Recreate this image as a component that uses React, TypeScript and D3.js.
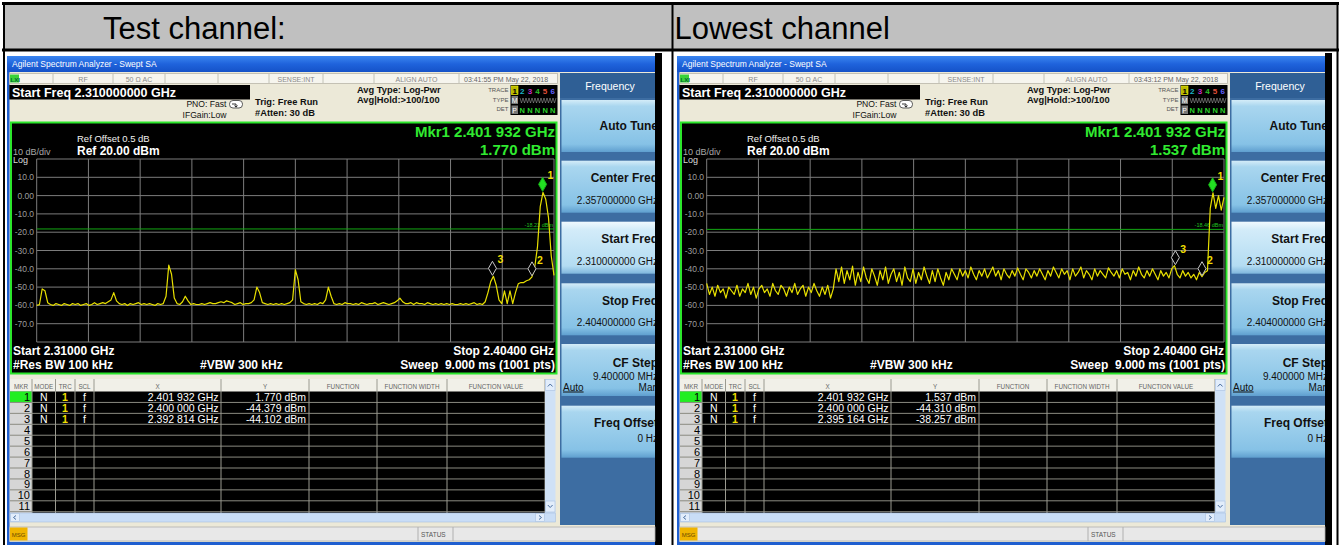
import React from "react";
import * as d3 from "d3";

// sweep settings, same for both captures
const startGHz = 2.31;
const stopGHz = 2.404;
const refDbm = 20;
const bottomDbm = -80;
const yTicks = [10, 0, -10, -20, -30, -40, -50, -60, -70];
const yTickLabels = ["10.0", "0.00", "-10.0", "-20.0", "-30.0", "-40.0", "-50.0", "-60.0", "-70.0"];

const panelTitles = ["Test channel:", "Lowest channel"];
const timestamps = ["03:41:55 PM May 22, 2018", "03:43:12 PM May 22, 2018"];
const displayLines = [-18.23, -18.46];

// trace 1, test channel (dBm, one value per 0.5 MHz)
const testTrace = [
  -60, -59.5, -51, -52, -58.5, -59.5, -60, -59, -59.5, -60,
  -59, -59.5, -60, -59, -59.5, -59, -60, -59.5, -59, -60,
  -59.5, -58.5, -59.5, -59, -58.5, -59, -58, -57, -53, -57.5,
  -59, -59.5, -59, -60, -59, -59.5, -59, -58.5, -59.5, -59,
  -59.5, -59, -59.5, -60, -59, -59.5, -59, -55, -38, -43,
  -56, -59, -59.5, -58, -55, -57.5, -59.5, -59, -59.5, -59.5,
  -59, -59.5, -59, -58.5, -59, -59, -58.5, -58, -58.5, -57.5,
  -58, -58.5, -59.5, -59, -58.5, -59.5, -59, -59, -58.5, -57,
  -50, -53, -58.5, -59, -59.5, -59, -59.5, -59, -59.5, -59,
  -59.5, -59, -58.5, -57, -40.5, -46, -58, -59, -59.5, -59,
  -59.5, -59, -59.5, -58.5, -59, -57, -50, -55, -59, -59.5,
  -59, -59.5, -58.5, -59, -59, -59.5, -59, -59.5, -58.5, -59,
  -59.5, -59, -59, -58.5, -59.5, -59, -58.5, -59, -59.5, -59,
  -58.5, -57.5, -56, -58, -59, -59, -58.5, -59.5, -58.5, -59,
  -59, -59.5, -58.5, -59, -59.5, -59, -59.5, -59, -59.5, -59,
  -59.5, -59, -59.5, -59.5, -59, -59.5, -59, -59.5, -59, -58.5,
  -59.5, -59, -59.5, -58, -53, -47, -44.1, -49, -57, -59,
  -52, -59, -52, -59, -53, -48.2, -47.5, -47.5, -46.5, -46,
  -44.4, -39, -28, -6, 1.77, -2, -12, -33, -43.6,
];

// trace 1, lowest channel
const lowestTrace = [
  -48, -54, -50, -55, -49, -53, -51, -56, -50, -52,
  -54, -49, -55, -51, -53, -48, -54, -50, -56, -51,
  -49, -53, -51, -55, -48, -52, -54, -49, -51, -55,
  -50, -53, -48, -54, -51, -49, -55, -50, -53, -48,
  -52, -55, -50, -54, -49, -56, -51, -40, -47, -39,
  -48, -41, -46, -38.5, -49, -42, -47, -39, -45, -48,
  -40, -44, -49, -41, -46, -39, -48, -43, -40, -47,
  -42, -49, -39, -45, -47, -40, -48, -42, -46, -39,
  -44, -48, -41, -47, -40, -45, -49, -42, -46, -40,
  -43, -46, -40, -44, -41, -45, -39, -43, -46, -41,
  -44, -40, -45, -42, -39, -44, -41, -46, -40, -43,
  -45, -41, -44, -39.5, -43, -46, -40, -42, -45, -41,
  -44, -40, -43, -46, -41, -44, -39, -42, -45, -40,
  -43, -41, -46, -40, -44, -42, -39, -45, -41, -43,
  -46, -40, -44, -41, -43, -45, -39.5, -42, -44, -41,
  -45, -40, -43, -42, -46, -41, -44, -39, -43, -45,
  -41, -44, -40, -43, -46, -41, -44, -42, -45, -40,
  -38.3, -43, -45, -41, -44, -42, -45, -43, -46, -42,
  -44.3, -42, -41, -7, 1.54, -7, 0, -8, -1,
];

const testMarkers = [
  { id: 1, ghz: 2.401932, dbm: 1.77 },
  { id: 2, ghz: 2.4, dbm: -44.379 },
  { id: 3, ghz: 2.392814, dbm: -44.102 },
];
const lowestMarkers = [
  { id: 1, ghz: 2.401932, dbm: 1.537 },
  { id: 2, ghz: 2.4, dbm: -44.31 },
  { id: 3, ghz: 2.395164, dbm: -38.257 },
];

const softkeys = [
  { label: "Auto Tune", value: "" },
  { label: "Center Freq", value: "2.357000000 GHz" },
  { label: "Start Freq", value: "2.310000000 GHz" },
  { label: "Stop Freq", value: "2.404000000 GHz" },
  { label: "CF Step", value: "9.400000 MHz" },
  { label: "Freq Offset", value: "0 Hz" },
];
const tableHeaders = ["MKR", "MODE", "TRC", "SCL", "X", "Y", "FUNCTION", "FUNCTION WIDTH", "FUNCTION VALUE"];
const statusCells = ["RF", "50 \u03a9     AC", "", "", "SENSE:INT", "", "ALIGN AUTO"];

const FONT = "'Liberation Sans', Arial, sans-serif";

const fmtGHz = (g) => {
  const s = g.toFixed(6);
  return `${s.slice(0, 5)} ${s.slice(5)} GHz`;
};
const fmtDbm = (v) => `${v.toFixed(3)} dBm`;

function Analyzer({ dx, idx, trace, markers, time, dispLine }) {
  const x = d3.scaleLinear().domain([startGHz, stopGHz]).range([36.7, 554]);
  const y = d3.scaleLinear().domain([bottomDbm, refDbm]).range([342, 159]);
  const step = (stopGHz - startGHz) / (trace.length - 1);
  const line = d3
    .line()
    .x((d, i) => x(startGHz + i * step))
    .y((d) => y(d));
  const vGrid = d3.range(11).map((k) => startGHz + (k * (stopGHz - startGHz)) / 10);
  const hGrid = [refDbm, ...yTicks, bottomDbm];
  const cols = [10, 32, 55.5, 75, 94, 221, 309, 377, 447, 545];
  const rowH = 10.93;
  const rowTop = (k) => 391.5 + k * rowH;
  const statusEdges = [53, 113, 165, 218, 269, 323, 374, 459];
  const keyTops = [100, 160.7, 221.7, 283.3, 344, 405.7];
  const mk1 = markers[0];

  return (
    <g transform={`translate(${dx},0)`} fontFamily={FONT}>
      <defs>
        <linearGradient id={`tb${idx}`} x1="0" y1="0" x2="0" y2="1">
          <stop offset="0" stopColor="#3b86f0" />
          <stop offset="0.5" stopColor="#1f63dc" />
          <stop offset="1" stopColor="#1552c8" />
        </linearGradient>
        <linearGradient id={`key${idx}`} x1="0" y1="0" x2="0" y2="1">
          <stop offset="0" stopColor="#d4ecf8" />
          <stop offset="0.12" stopColor="#a9d6ef" />
          <stop offset="0.85" stopColor="#86c2e6" />
          <stop offset="1" stopColor="#5f9fcf" />
        </linearGradient>
        <linearGradient id={`keyOn${idx}`} x1="0" y1="0" x2="0" y2="1">
          <stop offset="0" stopColor="#f0f9fe" />
          <stop offset="0.15" stopColor="#d3ecf9" />
          <stop offset="0.85" stopColor="#b3dcf2" />
          <stop offset="1" stopColor="#7fb6dc" />
        </linearGradient>
        <clipPath id={`keys${idx}`}>
          <rect x={560} y={70} width={95} height={460} />
        </clipPath>
      </defs>

      {/* window */}
      <rect x={7} y={56} width={648} height={489} fill="#ece9d8" />
      <rect x={7} y={56} width={648} height={16} fill={`url(#tb${idx})`} />
      <text x={12} y={67} fontSize={8.5} fill="#fff">
        Agilent Spectrum Analyzer - Swept SA
      </text>
      <rect x={7} y={72} width={2.5} height={473} fill="#1f5fd0" />
      <rect x={655} y={53} width={7} height={492} fill="#000" />

      {/* status row */}
      <rect x={9.5} y={73.5} width={548} height={10} fill="#f6f5ee" stroke="#b8b6a8" strokeWidth={0.8} />
      {statusEdges.map((e) => (
        <line key={e} x1={e} x2={e} y1={74} y2={83} stroke="#b8b6a8" strokeWidth={0.8} />
      ))}
      <rect x={10} y={74.5} width={9} height={8} fill="#3ad23a" />
      <text x={10.5} y={81.5} fontSize={6} fill="#063" fontWeight="bold">LXI</text>
      {statusCells.map((s, i) => (
        <text key={i} x={(statusEdges[i] + statusEdges[i + 1]) / 2} y={81.5} fontSize={7} fill="#8a8a8a" textAnchor="middle">
          {s}
        </text>
      ))}
      <text x={464} y={81.5} fontSize={7} fill="#666">{time}</text>

      {/* settings */}
      <rect x={9.3} y={85} width={240.7} height={14.5} fill="#000" />
      <text x={12} y={97} fontSize={12.5} fontWeight="bold" fill="#fff">
        Start Freq 2.310000000 GHz
      </text>
      <text x={226.5} y={107} fontSize={8.6} fill="#111" textAnchor="end">PNO: Fast</text>
      <text x={226.5} y={117.5} fontSize={8.6} fill="#111" textAnchor="end">IFGain:Low</text>
      <rect x={229.5} y={100.5} width={13} height={7.5} rx={3.5} fill="#fff" stroke="#333" strokeWidth={0.8} />
      <path d="M232,104 L236,104 L236,107 M234.5,105.5 L236,107.2 L237.5,105.5" fill="none" stroke="#000" strokeWidth={0.8} />
      <text x={255} y={104.5} fontSize={9.3} fontWeight="bold" fill="#111">Trig: Free Run</text>
      <text x={255} y={115.5} fontSize={9.3} fontWeight="bold" fill="#111">#Atten: 30 dB</text>
      <text x={357} y={93} fontSize={9.3} fontWeight="bold" fill="#111">Avg Type: Log-Pwr</text>
      <text x={357} y={103} fontSize={9.3} fontWeight="bold" fill="#111">Avg|Hold:&gt;100/100</text>
      <text x={508.5} y={92} fontSize={6} fill="#555" textAnchor="end">TRACE</text>
      <text x={508.5} y={101.5} fontSize={6} fill="#555" textAnchor="end">TYPE</text>
      <text x={508.5} y={111} fontSize={6} fill="#555" textAnchor="end">DET</text>
      <rect x={510.5} y={85} width={47} height={30} fill="#000" />
      <rect x={511.5} y={86} width={6.5} height={8.5} fill="#b8b800" stroke="#ff0" strokeWidth={0.6} />
      {["1", "2", "3", "4", "5", "6"].map((t, i) => (
        <text key={t} x={514.7 + i * 7.6} y={93.5} fontSize={8} fontWeight="bold" textAnchor="middle"
          fill={["#000", "#19b5c4", "#c030c0", "#2ac02a", "#e0503a", "#6060ff"][i]}>
          {t}
        </text>
      ))}
      <rect x={511.5} y={96} width={6.5} height={8} fill="#777" />
      <text x={514.7} y={103} fontSize={7} fill="#fff" textAnchor="middle">M</text>
      <path d="M520,98 l1.5,5 l1.5,-5 l1.5,5 l1.5,-5 l1.5,5 l1.5,-5 l1.5,5 l1.5,-5 l1.5,5 l1.5,-5 l1.5,5 l1.5,-5 l1.5,5 l1.5,-5 l1.5,5 l1.5,-5 l1.5,5 l1.5,-5 l1.5,5 l1.5,-5 l1.5,5 l1.5,-5 l1.5,5 l1.5,-5"
        fill="none" stroke="#999" strokeWidth={0.6} />
      <rect x={511.5} y={105.5} width={6.5} height={8.5} fill="#777" />
      <text x={514.7} y={112.5} fontSize={7} fill="#fff" textAnchor="middle">P</text>
      {[0, 1, 2, 3, 4].map((i) => (
        <text key={i} x={522.3 + i * 7.6} y={112.5} fontSize={7.5} fontWeight="bold" fill="#2bd42b" textAnchor="middle">
          N
        </text>
      ))}

      {/* display */}
      <rect x={11} y={122.5} width={545.5} height={251} fill="#000" stroke="#2be62b" strokeWidth={2} />
      {vGrid.map((g, i) => (
        <line key={`v${i}`} x1={x(g)} x2={x(g)} y1={y(refDbm)} y2={y(bottomDbm)} stroke="#7c7c7c" strokeWidth={1} />
      ))}
      {hGrid.map((g, i) => (
        <line key={`h${i}`} x1={x(startGHz)} x2={x(stopGHz)} y1={y(g)} y2={y(g)} stroke="#7c7c7c" strokeWidth={1} />
      ))}
      {yTicks.map((t, i) => (
        <text key={t} x={34} y={y(t) + 3} fontSize={8.5} fill="#9c9c9c" textAnchor="end">
          {yTickLabels[i]}
        </text>
      ))}
      <text x={13} y={155} fontSize={9} fill="#a8a8a8">10 dB/div</text>
      <text x={13} y={163} fontSize={9} fill="#d8d8d8">Log</text>
      <text x={77} y={142} fontSize={9.5} fill="#f0f0f0">Ref Offset 0.5 dB</text>
      <text x={77} y={155} fontSize={12} fontWeight="bold" fill="#fff">Ref 20.00 dBm</text>
      <text x={555} y={137} fontSize={15} fontWeight="bold" fill="#30ea30" textAnchor="end">
        {`Mkr${mk1.id} ${fmtGHz(mk1.ghz)}`}
      </text>
      <text x={555} y={154.5} fontSize={15} fontWeight="bold" fill="#30ea30" textAnchor="end">
        {fmtDbm(mk1.dbm)}
      </text>

      <line x1={x(startGHz)} x2={x(stopGHz)} y1={y(dispLine)} y2={y(dispLine)} stroke="#13a813" strokeWidth={1} />
      <text x={553} y={y(dispLine) - 2} fontSize={5.5} fill="#20c020" textAnchor="end">
        {`${dispLine.toFixed(2)} dBm`}
      </text>

      <path d={line(trace)} fill="none" stroke="#e8e000" strokeWidth={1.2} strokeLinejoin="round" />

      {markers.map((m) => {
        const mx = x(m.ghz);
        const my = y(m.dbm) - 1;
        const active = m.id === 1;
        return (
          <g key={m.id}>
            <path d={`M${mx},${my} L${mx + 4},${my - 7} L${mx},${my - 14} L${mx - 4},${my - 7} Z`}
              fill={active ? "#22e022" : "#000"} stroke={active ? "#18b018" : "#c8c8c8"} strokeWidth={1} />
            <text x={mx + 5} y={my - 12} fontSize={10.5} fontWeight="bold" fill="#eedd00">{m.id}</text>
          </g>
        );
      })}

      <text x={13} y={354.5} fontSize={12} fontWeight="bold" fill="#fff">Start 2.31000 GHz</text>
      <text x={13} y={368.5} fontSize={12} fontWeight="bold" fill="#fff">#Res BW 100 kHz</text>
      <text x={200} y={368.5} fontSize={12} fontWeight="bold" fill="#fff">#VBW 300 kHz</text>
      <text x={554} y={354.5} fontSize={12} fontWeight="bold" fill="#fff" textAnchor="end">Stop 2.40400 GHz</text>
      <text x={555} y={368.5} fontSize={12} fontWeight="bold" fill="#fff" textAnchor="end" xmlSpace="preserve">
        Sweep  9.000 ms (1001 pts)
      </text>

      {/* marker table */}
      <rect x={10} y={379} width={545} height={134} fill="#000" />
      <rect x={10} y={379} width={535} height={12.5} fill="#f1f0e8" />
      <rect x={10} y={391.5} width={22} height={121.5} fill="#d6d6d6" />
      <rect x={10} y={391.5} width={22} height={rowH} fill="#22ee22" />
      {d3.range(11).map((k) => (
        <line key={`r${k}`} x1={10} x2={545} y1={rowTop(k) + rowH} y2={rowTop(k) + rowH} stroke="#8a8a80" strokeWidth={1} />
      ))}
      {cols.slice(1).map((c) => (
        <line key={`c${c}`} x1={c} x2={c} y1={379} y2={513} stroke="#9a9a90" strokeWidth={1} />
      ))}
      {tableHeaders.map((h, i) => (
        <text key={h} x={(cols[i] + cols[i + 1]) / 2} y={388.5} fontSize={6.3} fill="#666" textAnchor="middle">
          {h}
        </text>
      ))}
      {d3.range(11).map((k) => (
        <text key={`n${k}`} x={30} y={rowTop(k) + 9.5} fontSize={11} fill="#000" textAnchor="end">
          {k + 1}
        </text>
      ))}
      {markers.map((m, k) => (
        <g key={`d${m.id}`} fontSize={10.5}>
          <text x={43.7} y={rowTop(k) + 9.5} fill="#fff" textAnchor="middle">N</text>
          <text x={65} y={rowTop(k) + 9.5} fill="#f0e000" textAnchor="middle" fontWeight="bold">1</text>
          <text x={84.5} y={rowTop(k) + 9.5} fill="#fff" textAnchor="middle">f</text>
          <text x={218.5} y={rowTop(k) + 9.5} fill="#fff" textAnchor="end">{fmtGHz(m.ghz)}</text>
          <text x={306} y={rowTop(k) + 9.5} fill="#fff" textAnchor="end">{fmtDbm(m.dbm)}</text>
        </g>
      ))}
      <rect x={545} y={379} width={10.5} height={134} fill="#cfe1f6" />
      <rect x={545.5} y={379.5} width={9.5} height={11} fill="#e2edfb" stroke="#a8c0e0" strokeWidth={0.6} />
      <path d="M547.8,386.5 L550.2,384 L552.6,386.5" fill="none" stroke="#4a6fa0" strokeWidth={1} />
      <rect x={545.5} y={501} width={9.5} height={11} fill="#e2edfb" stroke="#a8c0e0" strokeWidth={0.6} />
      <path d="M547.8,505 L550.2,507.5 L552.6,505" fill="none" stroke="#4a6fa0" strokeWidth={1} />
      <rect x={10} y={513} width={545.5} height={9} fill="#c9ddf6" stroke="#a8c0e0" strokeWidth={0.6} />
      <rect x={10.5} y={513.5} width={9} height={8} fill="#e2edfb" stroke="#a8c0e0" strokeWidth={0.6} />
      <path d="M16,515.5 L13.5,517.5 L16,519.5" fill="none" stroke="#4a6fa0" strokeWidth={1} />
      <rect x={535.5} y={513.5} width={9} height={8} fill="#e2edfb" stroke="#a8c0e0" strokeWidth={0.6} />
      <path d="M539,515.5 L541.5,517.5 L539,519.5" fill="none" stroke="#4a6fa0" strokeWidth={1} />

      {/* status bar */}
      <rect x={9.5} y={527} width={645.5} height={14} fill="#e8e8e8" stroke="#b0b0b0" strokeWidth={0.8} />
      <rect x={10} y={527.5} width={17.5} height={13} fill="#f0b400" />
      <text x={18.7} y={536.5} fontSize={6} fill="#6a4a00" textAnchor="middle">MSG</text>
      <line x1={418} x2={418} y1={527} y2={541} stroke="#b0b0b0" />
      <line x1={453} x2={453} y1={527} y2={541} stroke="#b0b0b0" />
      <text x={421} y={537} fontSize={6.5} fill="#555">STATUS</text>
      <rect x={7} y={542} width={648} height={3} fill="#1f5fd0" />

      {/* softkeys */}
      <rect x={560} y={73} width={95} height={452} fill="#3d6da2" />
      <rect x={560} y={73} width={95} height={25} fill="#2f5f95" />
      <text x={610} y={90} fontSize={10.5} fill="#fff" textAnchor="middle">Frequency</text>
      <g clipPath={`url(#keys${idx})`}>
        {softkeys.map((k, i) => {
          const t = keyTops[i];
          const two = k.value !== "";
          return (
            <g key={k.label}>
              <rect x={561.5} y={t} width={96} height={52} fill={i === 2 ? `url(#keyOn${idx})` : `url(#key${idx})`} />
              <text x={658} y={two ? t + (i === 4 ? 23 : 21.5) : t + 29.5} fontSize={12} fontWeight="bold" fill="#111" textAnchor="end">
                {k.label}
              </text>
              {two && (
                <text x={658} y={t + (i === 4 ? 36 : i === 5 ? 36.5 : 43)} fontSize={10} fill="#111" textAnchor="end">
                  {k.value}
                </text>
              )}
              {i === 4 && (
                <g>
                  <text x={563} y={t + 46.5} fontSize={10} fill="#111" textDecoration="underline">Auto</text>
                  <text x={658} y={t + 46.5} fontSize={10} fill="#111" textAnchor="end">Man</text>
                </g>
              )}
            </g>
          );
        })}
      </g>
    </g>
  );
}

export default function App() {
  const traces = [testTrace, lowestTrace];
  const markerSets = [testMarkers, lowestMarkers];
  return (
    <div style={{ position: "absolute", left: 0, top: 0 }}>
      <svg width={1341} height={545} style={{ display: "block" }}>
        <rect x={0} y={0} width={1341} height={545} fill="#fff" />
        <rect x={4} y={4} width={1333} height={45} fill="#c0c0c0" />
        {[0, 1].map((p) => (
          <Analyzer key={p} dx={p * 670} idx={p} trace={traces[p]} markers={markerSets[p]}
            time={timestamps[p]} dispLine={displayLines[p]} />
        ))}
        <line x1={2} x2={1339} y1={3.5} y2={3.5} stroke="#000" strokeWidth={3} />
        <line x1={2} x2={1339} y1={50} y2={50} stroke="#000" strokeWidth={3} />
        <line x1={4} x2={4} y1={2} y2={545} stroke="#000" strokeWidth={2} />
        <line x1={672.5} x2={672.5} y1={2} y2={545} stroke="#000" strokeWidth={2} />
        <line x1={1337.5} x2={1337.5} y1={2} y2={545} stroke="#000" strokeWidth={2} />
        <text x={103} y={39} fontSize={31} fontFamily={FONT} fill="#000">{panelTitles[0]}</text>
        <text x={674.5} y={39} fontSize={31} fontFamily={FONT} fill="#000">{panelTitles[1]}</text>
      </svg>
    </div>
  );
}
